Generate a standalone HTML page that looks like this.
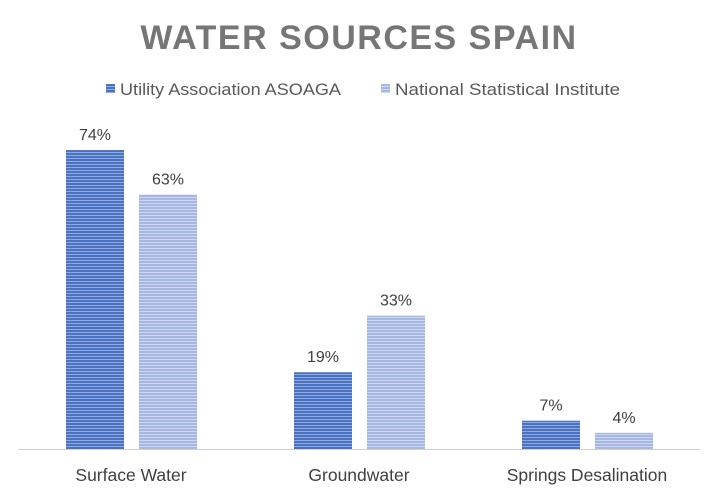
<!DOCTYPE html>
<html><head><meta charset="utf-8"><style>
body{margin:0;background:#fff;}
svg{display:block;font-family:"Liberation Sans",sans-serif;}
</style></head><body>
<svg width="719" height="496" viewBox="0 0 719 496">
<defs>
<pattern id="pd" width="4" height="3" patternUnits="userSpaceOnUse"><rect width="4" height="3" fill="#4a72c0"/><rect y="2" width="4" height="1" fill="#8eaae0"/></pattern>
<pattern id="pl" width="4" height="3" patternUnits="userSpaceOnUse"><rect width="4" height="3" fill="#a6b8e2"/><rect y="2" width="4" height="1" fill="#cdd8f0"/></pattern>
</defs>
<text x="359" y="49" text-anchor="middle" font-size="34" font-weight="bold" fill="#767676" letter-spacing="1.5">WATER SOURCES SPAIN</text>
<g>
<rect x="106" y="84" width="9" height="9" fill="url(#pd)"/>
<text x="120" y="95" font-size="17" fill="#595959" textLength="221" lengthAdjust="spacingAndGlyphs">Utility Association ASOAGA</text>
<rect x="381" y="84" width="9" height="9" fill="url(#pl)"/>
<text x="395" y="95" font-size="17" fill="#595959" textLength="225" lengthAdjust="spacingAndGlyphs">National Statistical Institute</text>
</g>
<g id="plot"></g>
<line x1="18" y1="449.5" x2="700" y2="449.5" stroke="#d0d0d0" stroke-width="1"/>
</svg>
<script>
const categories=["Surface Water","Groundwater","Springs Desalination"];
const asoaga=[74,19,7];
const ine=[63,33,4];
const NS="http://www.w3.org/2000/svg";
const g=document.getElementById('plot');
const base=449, k=4.04, left=17, catW=228, barW=58;
const y=v=>base-v*k;
function mk(t,a){const e=document.createElementNS(NS,t);for(const n in a)e.setAttribute(n,a[n]);return e;}
categories.forEach((c,i)=>{
  const cx=left+catW*i+catW/2;
  [[asoaga[i],'url(#pd)',cx-65,'asoaga'],[ine[i],'url(#pl)',cx+8,'ine']].forEach(([v,f,x,s])=>{
    const r=mk('rect',{x:x,y:y(v),width:barW,height:v*k,fill:f});
    
    
    g.appendChild(r);
    const t=mk('text',{x:x+barW/2,y:y(v)-10,'text-anchor':'middle','font-size':'16',fill:'#404040'});
    t.textContent=v+'%';
    
    
    g.appendChild(t);
  });
  const l=mk('text',{x:cx,y:481,'text-anchor':'middle','font-size':'17.5',fill:'#404040'});
  l.textContent=c;
  
  
  g.appendChild(l);
});
</script>
</body></html>
